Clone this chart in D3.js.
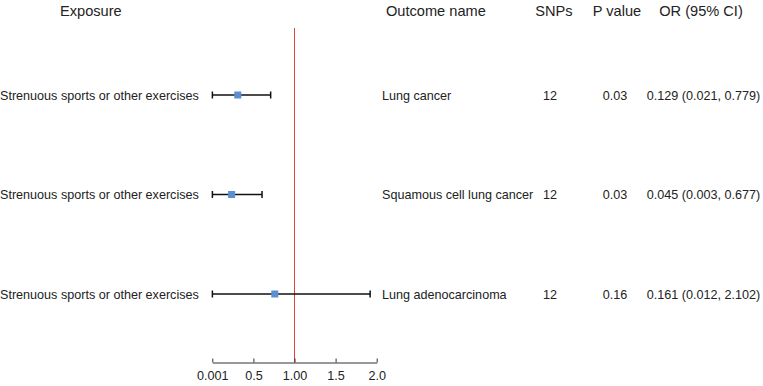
<!DOCTYPE html>
<html>
<meta charset="utf-8">
<title>Forest plot</title>
<style>
body { margin: 0; background: #fff; }
svg text { font-family: "Liberation Sans", Arial, Helvetica, sans-serif; fill: #222; }
text.head { font-size: 14.6px; }
text.cell { font-size: 12.6px; }
.axis path, .axis line { stroke: #333; stroke-width: 1px; }
.axis text { font-size: 12.6px; }
</style>
<script src="https://d3js.org/d3.v7.min.js"></script>
<body>
<script>
// table contents
const exposures = ["Strenuous sports or other exercises", "Strenuous sports or other exercises", "Strenuous sports or other exercises"];
const outcomes = ["Lung cancer", "Squamous cell lung cancer", "Lung adenocarcinoma"];
const snps = ["12", "12", "12"];
const pvalues = ["0.03", "0.03", "0.16"];
const orText = ["0.129 (0.021, 0.779)", "0.045 (0.003, 0.677)", "0.161 (0.012, 2.102)"];

// plotted estimates, as drawn
const estimate = [0.31, 0.235, 0.76];
const lower = [0.001, 0.001, 0.001];
const upper = [0.71, 0.605, 1.92];

const tickValues = [0, 0.5, 1, 1.5, 2];
const tickLabels = ["0.001", "0.5", "1.00", "1.5", "2.0"];

const width = 763, height = 386;

const svg = d3.select("body").append("svg")
    .attr("width", width)
    .attr("height", height);

const x = d3.scaleLinear()
    .domain([0, 2])
    .range([212.3, 376.7]);

const y = d3.scalePoint()
    .domain(d3.range(outcomes.length))
    .range([95, 294]);

const axisY = 362.5;

// header
const heads = [
  {t: "Exposure", x: 60, anchor: "start"},
  {t: "Outcome name", x: 386, anchor: "start"},
  {t: "SNPs", x: 554, anchor: "middle"},
  {t: "P value", x: 617, anchor: "middle"},
  {t: "OR (95% CI)", x: 701, anchor: "middle"}
];
svg.selectAll("text.head").data(heads).join("text")
    .attr("class", "head")
    .attr("x", d => d.x)
    .attr("y", 16)
    .attr("text-anchor", d => d.anchor)
    .text(d => d.t);

// reference line at OR = 1
svg.append("line")
    .attr("x1", x(1)).attr("x2", x(1))
    .attr("y1", 28).attr("y2", axisY)
    .attr("stroke", "#e0413b")
    .attr("stroke-width", 1);

// axis
const axis = svg.append("g")
    .attr("class", "axis")
    .attr("transform", `translate(0,${axisY})`)
    .call(d3.axisBottom(x)
      .tickValues(tickValues)
      .tickFormat((d, i) => tickLabels[i])
      .tickSize(-4)
      .tickSizeOuter(0)
      .tickPadding(9));
axis.select(".domain").attr("stroke", "#333");
axis.selectAll("text").attr("fill", "#222");

// rows
const rows = svg.selectAll("g.row").data(d3.range(outcomes.length)).join("g")
    .attr("class", "row")
    .attr("transform", i => `translate(0,${y(i)})`);

rows.append("text").attr("class", "cell")
    .attr("x", 0).attr("y", 4.5)
    .text(i => exposures[i]);
rows.append("text").attr("class", "cell")
    .attr("x", 382).attr("y", 4.5)
    .text(i => outcomes[i]);
rows.append("text").attr("class", "cell")
    .attr("x", 550).attr("y", 4.5).attr("text-anchor", "middle")
    .text(i => snps[i]);
rows.append("text").attr("class", "cell")
    .attr("x", 615).attr("y", 4.5).attr("text-anchor", "middle")
    .text(i => pvalues[i]);
rows.append("text").attr("class", "cell")
    .attr("x", 703.5).attr("y", 4.5).attr("text-anchor", "middle")
    .text(i => orText[i]);

// confidence intervals
rows.append("line")
    .attr("x1", i => x(lower[i])).attr("x2", i => x(upper[i]))
    .attr("y1", 0).attr("y2", 0)
    .attr("stroke", "#111").attr("stroke-width", 1.5);
rows.append("line")
    .attr("x1", i => x(lower[i])).attr("x2", i => x(lower[i]))
    .attr("y1", -3.5).attr("y2", 3.5)
    .attr("stroke", "#111").attr("stroke-width", 1.5);
rows.append("line")
    .attr("x1", i => x(upper[i])).attr("x2", i => x(upper[i]))
    .attr("y1", -3.5).attr("y2", 3.5)
    .attr("stroke", "#111").attr("stroke-width", 1.5);

// point estimates
rows.append("rect")
    .attr("x", i => x(estimate[i]) - 3.5)
    .attr("y", -3.5)
    .attr("width", 7).attr("height", 7)
    .attr("fill", "#5b8fd2");
</script>
</body>
</html>
